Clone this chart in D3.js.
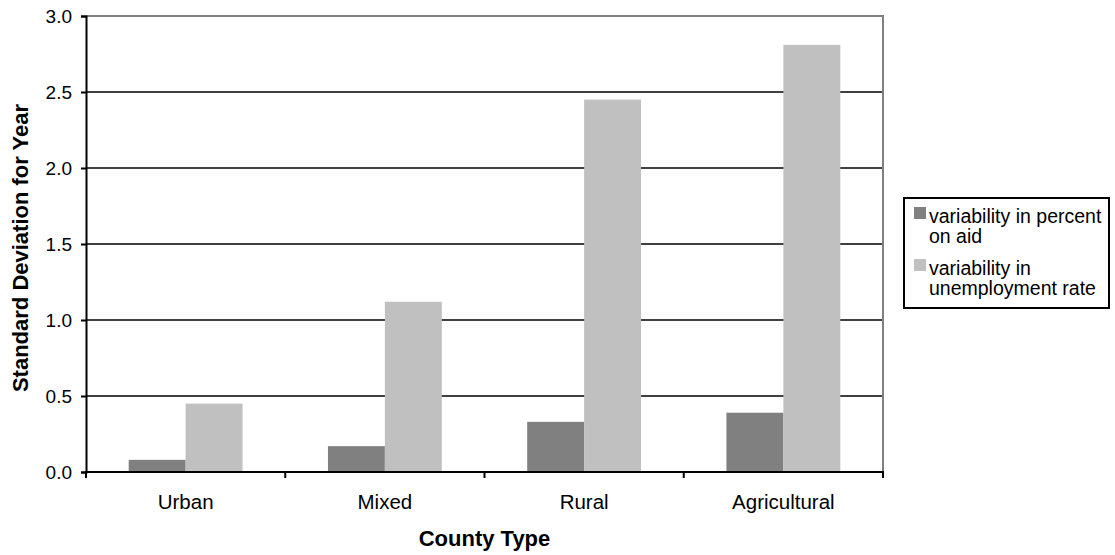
<!DOCTYPE html>
<html>
<head>
<meta charset="utf-8">
<script src="https://cdn.jsdelivr.net/npm/d3@7"></script>
<style>
  html, body { margin: 0; padding: 0; background: #fff; }
  svg { display: block; font-family: "Liberation Sans", Arial, sans-serif; }
</style>
</head>
<body>
<svg id="chart" width="1115" height="555"></svg>
<script>
// County types and the two variability series (standard deviation for year)
const categories = ["Urban", "Mixed", "Rural", "Agricultural"];
const seriesNames = ["variability in percent on aid", "variability in unemployment rate"];
const aidVariability = [0.08, 0.17, 0.33, 0.39];
const unemploymentVariability = [0.45, 1.12, 2.45, 2.81];
const yTicks = [0.0, 0.5, 1.0, 1.5, 2.0, 2.5, 3.0];
const legendLines = [["variability in percent", "on aid"], ["variability in", "unemployment rate"]];

const colors = ["#808080", "#c0c0c0"];
const seriesValues = [aidVariability, unemploymentVariability];

const svg = d3.select("#chart");
const plot = { left: 86, right: 883, top: 16, bottom: 472 };

const x0 = d3.scaleBand().domain(categories).range([plot.left, plot.right]).paddingInner(0).paddingOuter(0);
// Gap width of 150%: two bars plus 1.5 bar widths of gap per category
const barW = x0.bandwidth() / 3.5;
const x1 = d3.scaleBand().domain(d3.range(seriesValues.length))
  .range([barW * 0.75, barW * 0.75 + barW * seriesValues.length]);
const y = d3.scaleLinear().domain([0, 3]).range([plot.bottom, plot.top]);

// Horizontal gridlines
svg.append("g")
  .selectAll("line")
  .data(yTicks.filter(t => t > 0 && t < 3))
  .join("line")
  .attr("x1", plot.left).attr("x2", plot.right)
  .attr("y1", d => y(d)).attr("y2", d => y(d))
  .attr("stroke", "#000").attr("stroke-width", 1.5);

// Plot area frame (top and right in grey)
svg.append("path")
  .attr("d", `M${plot.left},${y(3)}H${plot.right}V${plot.bottom}`)
  .attr("fill", "none").attr("stroke", "#808080").attr("stroke-width", 2);

// Bars
categories.forEach((cat, i) => {
  seriesValues.forEach((vals, s) => {
    svg.append("rect")
      .attr("x", x0(cat) + x1(s))
      .attr("width", x1.bandwidth())
      .attr("y", y(vals[i]))
      .attr("height", y(0) - y(vals[i]))
      .attr("fill", colors[s]);
  });
});

// Y axis
const yAxis = d3.axisLeft(y).tickValues(yTicks).tickFormat(d3.format(".1f")).tickSize(5).tickPadding(9);
const gy = svg.append("g").attr("transform", `translate(${plot.left},0)`).call(yAxis);
gy.select(".domain").attr("stroke", "#000").attr("stroke-width", 2);
gy.selectAll(".tick line").attr("stroke", "#000").attr("stroke-width", 2);
gy.selectAll(".tick text").attr("font-size", 19).attr("fill", "#000").attr("font-family", "Liberation Sans, Arial, sans-serif");

// X axis: ticks sit between categories
const xEdge = d3.scaleLinear().domain([0, categories.length]).range([plot.left, plot.right]);
svg.append("line")
  .attr("x1", plot.left - 1).attr("x2", plot.right + 1)
  .attr("y1", plot.bottom).attr("y2", plot.bottom)
  .attr("stroke", "#000").attr("stroke-width", 2);
svg.append("g").selectAll("line")
  .data(d3.range(categories.length + 1))
  .join("line")
  .attr("x1", d => xEdge(d)).attr("x2", d => xEdge(d))
  .attr("y1", plot.bottom).attr("y2", plot.bottom + 6)
  .attr("stroke", "#000").attr("stroke-width", 2);
svg.append("g").selectAll("text")
  .data(categories)
  .join("text")
  .attr("x", d => x0(d) + x0.bandwidth() / 2)
  .attr("y", 509)
  .attr("text-anchor", "middle")
  .attr("font-size", 20.5)
  .text(d => d);

// Axis titles
svg.append("text")
  .attr("x", (plot.left + plot.right) / 2).attr("y", 546)
  .attr("text-anchor", "middle").attr("font-size", 22).attr("font-weight", "bold")
  .text("County Type");
svg.append("text")
  .attr("transform", "translate(28,248) rotate(-90)")
  .attr("text-anchor", "middle").attr("font-size", 22).attr("font-weight", "bold")
  .text("Standard Deviation for Year");

// Legend
const lg = svg.append("g");
lg.append("rect")
  .attr("x", 904).attr("y", 198).attr("width", 205).attr("height", 110)
  .attr("fill", "#fff").attr("stroke", "#000").attr("stroke-width", 2);
const itemTop = [207, 259];
seriesNames.forEach((name, s) => {
  lg.append("rect")
    .attr("x", 914).attr("y", itemTop[s]).attr("width", 12).attr("height", 12)
    .attr("fill", colors[s]);
  const t = lg.append("text").attr("x", 929).attr("y", itemTop[s] + 16).attr("font-size", 19.5);
  legendLines[s].forEach((ln, k) => {
    t.append("tspan").attr("x", 929).attr("dy", k === 0 ? 0 : 20).text(ln);
  });
});
</script>
</body>
</html>
